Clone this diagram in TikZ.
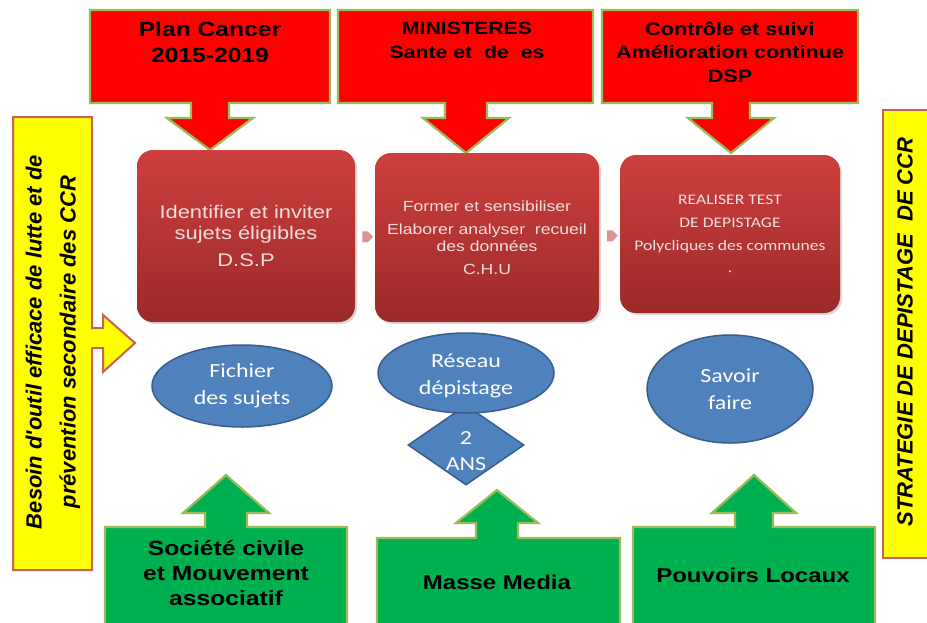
\documentclass[tikz,border=0pt]{standalone}
\usepackage{fontspec}
\setmainfont{Liberation Sans}[FakeStretch=1.2]
\newfontfamily\calfont{Carlito}[FakeStretch=1.2]
\newfontfamily\sidefont{Liberation Sans}
\usetikzlibrary{shapes.geometric,shapes.arrows,shadows,calc}

\newdimen\pxu \pxu=0.75pt

\definecolor{calloutred}{HTML}{FF0000}
\definecolor{olivebrd}{HTML}{9BBB59}
\definecolor{callgreen}{HTML}{00B050}
\definecolor{stepTop}{HTML}{CD403D}
\definecolor{stepBot}{HTML}{9B2A29}
\definecolor{steptext}{HTML}{F4DEDD}
\definecolor{ovalblue}{HTML}{4F81BD}
\definecolor{ovaledge}{HTML}{385D8A}
\definecolor{sideyellow}{HTML}{FFFF00}
\definecolor{sideedge}{HTML}{C9605C}
\definecolor{linkpink}{HTML}{D99694}

\begin{document}
\begin{tikzpicture}[x=0.75pt,y=-0.75pt,
  callred/.style={fill=calloutred, draw=olivebrd, line width=2.2\pxu},
  callgrn/.style={fill=callgreen, draw=olivebrd, line width=2.2\pxu},
  sidebox/.style={fill=sideyellow, draw=sideedge, line width=2\pxu},
  stepbox/.style={rectangle, rounded corners=16\pxu, top color=stepTop,
    bottom color=stepBot, draw=none, text=steptext, align=center, inner sep=0,
    drop shadow={shadow xshift=1.5pt, shadow yshift=-1.5pt, opacity=0.3}},
  oval/.style={ellipse, fill=ovalblue, draw=ovaledge, line width=1.5\pxu,
    inner sep=0},
  ovaltxt/.style={text=white, align=center,
    font=\calfont\fontsize{15}{20}\selectfont},
  headtxt/.style={text=black, align=center, font=\bfseries},
  sidetxt/.style={text=black, align=center, rotate=90,
    font=\sidefont\bfseries\itshape\fontsize{16.5}{25.5}\selectfont},
  linkarrow/.style={single arrow, fill=linkpink, draw=none, inner sep=0,
    minimum height=11\pxu, minimum width=11\pxu,
    single arrow head extend=0pt}
]
\useasboundingbox (0,0) rectangle (927,622);
\fill[white] (0,0) rectangle (927,622);

% side banners
\draw[sidebox] (13,117) -- (92,117) -- (92,328) -- (103,328) -- (103,315)
  -- (135,343) -- (103,372) -- (103,348) -- (92,348) -- (92,570)
  -- (13,570) -- cycle;
\node[sidetxt] (need) at (53,342)
  {Besoin d'outil efficace de lutte et de\\prévention secondaire des CCR};
\draw[sidebox] (883,110) -- (940,110) -- (940,558) -- (883,558) -- cycle;
\node[sidetxt] (strat) at (905,332) {STRATEGIE DE DEPISTAGE\ \ DE CCR};

% top down-arrow callouts
\draw[callred] (90,10) -- (330,10) -- (330,103) -- (229,103) -- (229,118)
  -- (253,118) -- (210,150) -- (167,118) -- (191,118) -- (191,103)
  -- (90,103) -- cycle;
\draw[callred] (338,10) -- (593,10) -- (593,103) -- (487,103) -- (487,118)
  -- (509,118) -- (466,153) -- (423,118) -- (445,118) -- (445,103)
  -- (338,103) -- cycle;
\draw[callred] (602,10) -- (858,10) -- (858,103) -- (750,103) -- (750,118)
  -- (774,118) -- (731,153) -- (688,118) -- (712,118) -- (712,103)
  -- (602,103) -- cycle;
\node[headtxt, font=\bfseries\fontsize{15.4}{20}\selectfont] (plan)
  at (210,42) {Plan Cancer\\2015-2019};
\node[headtxt, font=\bfseries\fontsize{13.3}{18}\selectfont] (mini)
  at (467,40) {MINISTERES\\Sante et\ \ de\ \ es};
\node[headtxt, font=\bfseries\fontsize{13.5}{17.6}\selectfont] (ctrl)
  at (730,52) {Contrôle et suivi\\Amélioration continue\\DSP};

% process steps
\node[stepbox, minimum width=218\pxu, minimum height=172\pxu,
  font=\fontsize{13.7}{15.75}\selectfont] (b1) at (246,236)
  {Identifier et inviter\\sujets éligibles\\[4.5pt]D.S.P};
\node[stepbox, minimum width=224\pxu, minimum height=169\pxu,
  font=\fontsize{11}{12.75}\selectfont] (b2) at (487,237.5)
  {Former et sensibiliser\\[4.5pt]Elaborer analyser\ \ recueil\\des données\\[4.5pt]C.H.U};
\node[stepbox, minimum width=220\pxu, minimum height=158\pxu,
  font=\calfont\fontsize{11}{17}\selectfont] (b3) at (730,234)
  {REALISER TEST\\DE DEPISTAGE\\Polycliques des communes\\.};
\node[linkarrow] (l12) at ($(b1.east)!0.5!(b2.west)$) {};
\node[linkarrow] (l23) at ($(b2.east)!0.5!(b3.west)$) {};

% resources
\node[oval, minimum width=180\pxu, minimum height=82\pxu] (e1) at (242,386) {};
\node[ovaltxt] at (e1) {Fichier\\des sujets};
\node[diamond, fill=ovalblue, draw=ovaledge, line width=1.5\pxu, inner sep=0,
  aspect=1.45, minimum width=116\pxu, minimum height=80\pxu] (dia) at (466,445) {};
\node[oval, minimum width=176\pxu, minimum height=80\pxu] (e2) at (466,373) {};
\node[ovaltxt] at (e2.center) [yshift=-2pt] {Réseau\\dépistage};
\node[ovaltxt] at (466,451) {2\\ANS};
\node[oval, minimum width=166\pxu, minimum height=108\pxu] (e3) at (730,389) {};
\node[ovaltxt] at (e3) {Savoir\\faire};

% bottom up-arrow callouts
\draw[callgrn] (105,640) -- (105,527) -- (205,527) -- (205,513) -- (183,513)
  -- (226,475) -- (269,513) -- (247,513) -- (247,527) -- (347,527)
  -- (347,640) -- cycle;
\draw[callgrn] (377,640) -- (377,538) -- (476,538) -- (476,523) -- (456,523)
  -- (497,490) -- (538,523) -- (518,523) -- (518,538) -- (620,538)
  -- (620,640) -- cycle;
\draw[callgrn] (633,640) -- (633,527) -- (735,527) -- (735,513) -- (712,513)
  -- (754,475) -- (796,513) -- (773,513) -- (773,527) -- (875,527)
  -- (875,640) -- cycle;
\node[headtxt, font=\bfseries\fontsize{15.4}{19}\selectfont] (soc)
  at (226,573) {Société civile\\et Mouvement\\associatif};
\node[headtxt, font=\bfseries\fontsize{15}{19}\selectfont] (media)
  at (497,582) {Masse Media};
\node[headtxt, font=\bfseries\fontsize{15}{19}\selectfont] (pouv)
  at (753,575) {Pouvoirs Locaux};
\end{tikzpicture}
\end{document}
